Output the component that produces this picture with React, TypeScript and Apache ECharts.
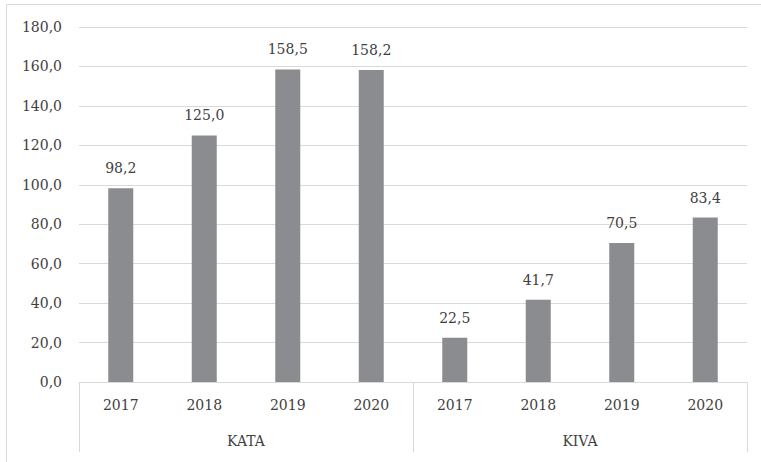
import React, { useEffect, useRef } from "react";
import * as echarts from "echarts";

const years = ["2017", "2018", "2019", "2020", "2017", "2018", "2019", "2020"];
const groups = ["KATA", "KIVA"];
const values = [98.2, 125.0, 158.5, 158.2, 22.5, 41.7, 70.5, 83.4];

const fmt = (v: number) => v.toFixed(1).replace(".", ",");

export default function App() {
  const ref = useRef<HTMLDivElement>(null);
  useEffect(() => {
    if (!ref.current) return;
    const chart = echarts.init(ref.current, null, { renderer: "svg" });
    const font = "DejaVu Serif";
    const textColor = "#404040";
    const fs = 14;
    chart.setOption({
      animation: false,
      backgroundColor: "#ffffff",
      textStyle: { fontFamily: font },
      grid: { left: 79, right: 14, top: 27, bottom: 80, containLabel: false },
      graphic: [
        {
          type: "rect",
          shape: { x: 6.5, y: 4.5, width: 800, height: 500 },
          style: { fill: "none", stroke: "#d9d9d9", lineWidth: 1 },
          silent: true,
        },
      ],
      xAxis: [
        {
          type: "category",
          data: years,
          position: "bottom",
          axisLine: { show: true, lineStyle: { color: "#d9d9d9", width: 1 } },
          axisTick: { show: false },
          axisLabel: { color: textColor, fontSize: fs, fontFamily: font, margin: 16 },
        },
        {
          type: "category",
          data: groups,
          position: "bottom",
          axisLine: { show: false },
          axisTick: { show: true, length: 70, lineStyle: { color: "#d9d9d9", width: 1 } },
          axisLabel: { color: textColor, fontSize: fs, fontFamily: font, margin: 52 },
        },
      ],
      yAxis: {
        type: "value",
        min: 0,
        max: 180,
        interval: 20,
        axisLine: { show: false },
        axisTick: { show: false },
        splitLine: { lineStyle: { color: "#d9d9d9", width: 1 } },
        axisLabel: {
          color: textColor,
          fontSize: fs,
          fontFamily: font,
          margin: 17,
          formatter: (v: number) => fmt(v),
        },
      },
      series: [
        {
          type: "bar",
          xAxisIndex: 0,
          data: values,
          barWidth: 25,
          itemStyle: { color: "#8b8c90" },
          label: {
            show: true,
            position: "top",
            distance: 13,
            color: textColor,
            fontSize: fs,
            fontFamily: font,
            formatter: (p: any) => fmt(p.value),
          },
        },
      ],
    });
    return () => chart.dispose();
  }, []);
  return <div ref={ref} style={{ width: 761, height: 462, position: "absolute", left: 0, top: 0 }} />;
}
